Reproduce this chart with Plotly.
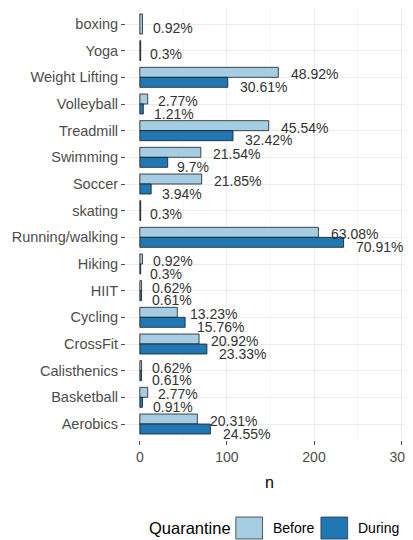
import plotly.graph_objects as go

# ---- data (top to bottom as displayed) ----
categories = ["boxing", "Yoga", "Weight Lifting", "Volleyball", "Treadmill", "Swimming",
              "Soccer", "skating", "Running/walking", "Hiking", "HIIT", "Cycling",
              "CrossFit", "Calisthenics", "Basketball", "Aerobics"]
n_before = [3, 0, 159, 9, 148, 70, 71, 0, 205, 3, 2, 43, 68, 2, 9, 66]
n_during = [0, 1, 101, 4, 107, 32, 13, 1, 234, 1, 2, 52, 77, 2, 3, 81]
pct_before = ["0.92%", "", "48.92%", "2.77%", "45.54%", "21.54%", "21.85%", "", "63.08%",
              "0.92%", "0.62%", "13.23%", "20.92%", "0.62%", "2.77%", "20.31%"]
pct_during = ["", "0.3%", "30.61%", "1.21%", "32.42%", "9.7%", "3.94%", "0.3%", "70.91%",
              "0.3%", "0.61%", "15.76%", "23.33%", "0.61%", "0.91%", "24.55%"]
groups = ["Before", "During"]
x_ticks = [0, 100, 200, 300]

# ---- style ----
COL_BEFORE = "#A6CEE3"
COL_DURING = "#1F78B4"
EDGE = "#1a1a1a"
FONT = "Liberation Sans, Arial, sans-serif"
HALF = 0.375  # width of one dodged bar (category units)

PAGE_OFF = 8             # default body margin of the html page
PAGE_W, PAGE_H = 413, 540
W, H = PAGE_W - PAGE_OFF, PAGE_H - PAGE_OFF

# plot area in page pixels
P_LEFT, P_RIGHT, P_TOP, P_BOTTOM = 126, 413, 8, 440
ML = P_LEFT - PAGE_OFF
MR = 0
MT = P_TOP - PAGE_OFF
MB = H - (P_BOTTOM - PAGE_OFF)
PX_PER_UNIT = 0.88
ZERO_PX = 140
x_lo = -(ZERO_PX - P_LEFT) / PX_PER_UNIT
x_hi = (P_RIGHT - ZERO_PX) / PX_PER_UNIT

plot_w = P_RIGHT - P_LEFT
plot_h = P_BOTTOM - P_TOP


def px2paper_x(px):
    return (px - P_LEFT) / plot_w


def px2paper_y(py):
    return (P_BOTTOM - py) / plot_h


def bar_geometry(own, other, first):
    xs, offs, wids = [], [], []
    for a, b in zip(own, other):
        if a == 0:
            xs.append(None); offs.append(-HALF); wids.append(HALF)
        elif b == 0:
            xs.append(a); offs.append(-HALF); wids.append(2 * HALF)
        else:
            xs.append(a); offs.append(-HALF if first else 0.0); wids.append(HALF)
    return xs, offs, wids


fig = go.Figure()
for name, own, other, col, first in [("Before", n_before, n_during, COL_BEFORE, True),
                                     ("During", n_during, n_before, COL_DURING, False)]:
    xs, offs, wids = bar_geometry(own, other, first)
    fig.add_trace(go.Bar(
        y=categories, x=xs, orientation="h", name=name,
        offset=offs, width=wids,
        marker=dict(color=col, line=dict(color=EDGE, width=0.8)),
        showlegend=False, hoverinfo="x+y+name",
    ))

# percentage labels
annotations = []
for cat, nb, nd, pb, pd_ in zip(categories, n_before, n_during, pct_before, pct_during):
    both = nb > 0 and nd > 0
    for val, lab, dy in [(nb, pb, 3.0), (nd, pd_, -9.5)]:
        if val == 0 or not lab:
            continue
        ys = dy if both else -3.5
        annotations.append(dict(
            x=val, y=cat, xref="x", yref="y", text=lab, showarrow=False,
            xanchor="left", yanchor="middle", xshift=1.7 * len(lab), yshift=ys,
            font=dict(family=FONT, size=14, color="#333333"),
        ))

# axis title "n"
annotations.append(dict(x=px2paper_x(271.5), y=px2paper_y(482),
                        xref="paper", yref="paper", text="n", showarrow=False,
                        xanchor="center", yanchor="middle",
                        font=dict(family=FONT, size=16, color="#000000")))

# legend (drawn in paper coordinates)
shapes = []
leg_y = 528
annotations.append(dict(x=px2paper_x(147), y=px2paper_y(leg_y), xref="paper", yref="paper",
                        text="Quarantine", showarrow=False, xanchor="left", yanchor="middle",
                        font=dict(family=FONT, size=16.5, color="#000000")))
for name, col, bx, tx in [("Before", COL_BEFORE, 237, 273), ("During", COL_DURING, 323, 358)]:
    shapes.append(dict(type="rect", xref="paper", yref="paper",
                       x0=px2paper_x(bx), x1=px2paper_x(bx + 27),
                       y0=px2paper_y(leg_y + 11), y1=px2paper_y(leg_y - 11),
                       fillcolor=col, line=dict(color="#333333", width=0.8)))
    annotations.append(dict(x=px2paper_x(tx), y=px2paper_y(leg_y), xref="paper", yref="paper",
                            text=name, showarrow=False, xanchor="left", yanchor="middle",
                            font=dict(family=FONT, size=14, color="#000000")))

fig.update_layout(
    width=W, height=H,
    margin=dict(l=ML, r=MR, t=MT, b=MB, pad=0),
    barmode="overlay",
    paper_bgcolor="white", plot_bgcolor="white",
    font=dict(family=FONT, color="#4D4D4D"),
    showlegend=False,
    annotations=annotations,
    shapes=shapes,
)
fig.update_xaxes(
    range=[x_lo, x_hi], tickvals=x_ticks, ticktext=[str(v) for v in x_ticks],
    showgrid=True, gridcolor="#EBEBEB", gridwidth=1, zeroline=False,
    minor=dict(dtick=50, tick0=0, showgrid=True, gridcolor="#F5F5F5", gridwidth=1),
    ticks="outside", ticklen=4, tickcolor="#555555", tickwidth=1,
    tickfont=dict(family=FONT, size=14, color="#4D4D4D"),
    ticklabeloverflow="allow", showline=False,
)
fig.update_yaxes(
    type="category", categoryorder="array", categoryarray=categories,
    range=[len(categories) - 0.4, -0.6],
    showgrid=True, gridcolor="#EBEBEB", gridwidth=1, zeroline=False,
    ticks="outside", ticklen=4, tickcolor="#555555", tickwidth=1,
    tickfont=dict(family=FONT, size=14.5, color="#4D4D4D"),
    showline=False,
)

fig.write_html("out.html")
